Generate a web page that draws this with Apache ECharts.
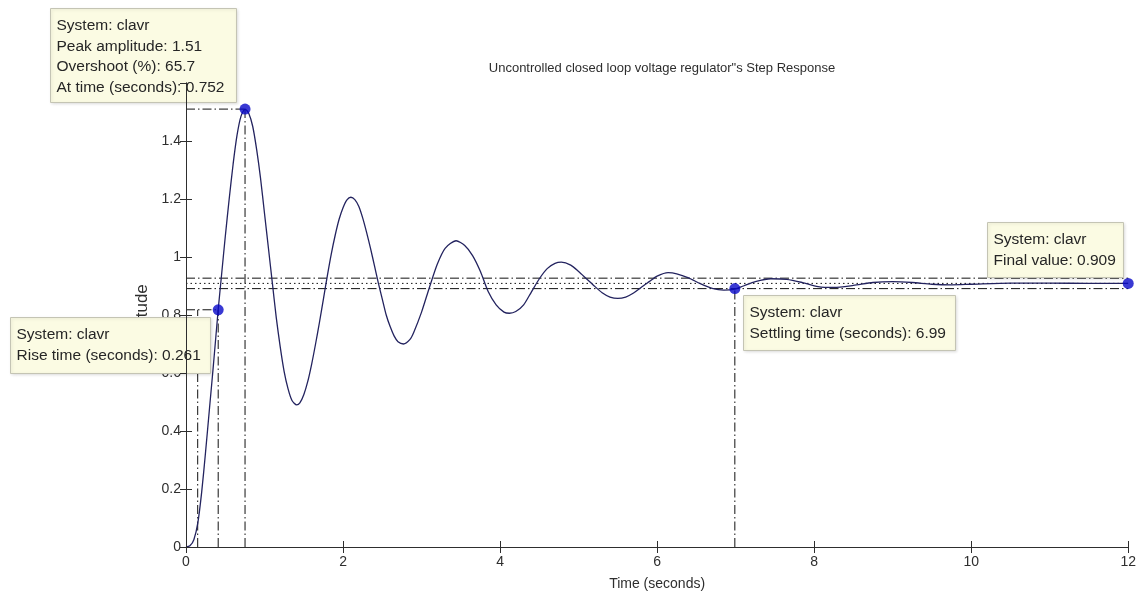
<!DOCTYPE html>
<html>
<head>
<meta charset="utf-8">
<title>Step Response</title>
<script src="https://cdn.jsdelivr.net/npm/echarts@6/dist/echarts.min.js"></script>
<style>
  html, body { margin: 0; padding: 0; background: #ffffff; }
  #chart { width: 1139px; height: 598px; }
</style>
</head>
<body>
<div id="chart"></div>
<script>
// Step response of the closed loop voltage regulator (time in seconds, amplitude)
const timeS = [
  0.00, 0.05, 0.10, 0.15, 0.20, 0.25, 0.30, 0.35, 0.41, 0.45,
  0.50, 0.55, 0.60, 0.65, 0.70, 0.752, 0.80, 0.85, 0.90, 0.95,
  1.00, 1.05, 1.10, 1.15, 1.20, 1.25, 1.30, 1.35, 1.41, 1.45,
  1.50, 1.55, 1.60, 1.65, 1.70, 1.75, 1.80, 1.85, 1.90, 1.95,
  2.00, 2.05, 2.10, 2.15, 2.20, 2.25, 2.30, 2.35, 2.40, 2.45,
  2.50, 2.55, 2.60, 2.65, 2.70, 2.77, 2.85, 2.90, 3.00, 3.10,
  3.20, 3.30, 3.44, 3.55, 3.65, 3.75, 3.85, 3.95, 4.05, 4.12,
  4.20, 4.30, 4.40, 4.50, 4.60, 4.70, 4.78, 4.90, 5.00, 5.10,
  5.20, 5.30, 5.40, 5.50, 5.60, 5.70, 5.80, 5.90, 6.00, 6.14,
  6.25, 6.40, 6.55, 6.70, 6.85, 6.99, 7.10, 7.25, 7.45, 7.65,
  7.85, 8.05, 8.25, 8.50, 8.75, 9.00, 9.25, 9.50, 9.75, 10.00,
  10.50, 11.00, 11.50, 12.00
];
const amplitude = [
  0.000, 0.004, 0.025, 0.082, 0.190, 0.330, 0.480, 0.630, 0.818, 0.930,
  1.070, 1.200, 1.320, 1.420, 1.485, 1.510, 1.495, 1.450, 1.370, 1.270,
  1.150, 1.030, 0.910, 0.790, 0.690, 0.605, 0.545, 0.505, 0.490, 0.497,
  0.525, 0.570, 0.630, 0.700, 0.775, 0.855, 0.935, 1.010, 1.075, 1.130,
  1.170, 1.197, 1.206, 1.198, 1.175, 1.135, 1.085, 1.030, 0.970, 0.910,
  0.855, 0.800, 0.760, 0.728, 0.708, 0.700, 0.715, 0.740, 0.810, 0.895,
  0.975, 1.030, 1.056, 1.040, 1.005, 0.950, 0.880, 0.835, 0.810, 0.806,
  0.812, 0.835, 0.880, 0.925, 0.960, 0.978, 0.982, 0.972, 0.950, 0.925,
  0.900, 0.877, 0.862, 0.857, 0.862, 0.876, 0.896, 0.915, 0.934, 0.946,
  0.942, 0.928, 0.908, 0.892, 0.886, 0.889, 0.900, 0.915, 0.925, 0.923,
  0.912, 0.898, 0.895, 0.902, 0.912, 0.915, 0.912, 0.906, 0.904, 0.906,
  0.910, 0.910, 0.909, 0.909
];

// Axis ticks
const xTicks = [0, 2, 4, 6, 8, 10, 12];
const yTicks = [0, 0.2, 0.4, 0.6, 0.8, 1, 1.2, 1.4, 1.6];

// Response characteristics
const systemName = 'clavr';
const peakTime = 0.752, peakAmp = 1.51, overshootPct = 65.7;
const riseStart = 0.149, riseEnd = 0.41, riseLevel = 0.818, riseTime = 0.261;
const settleTime = 6.99, settleLow = 0.891, settleHigh = 0.927;
const finalValue = 0.909;

const FONT = '"Liberation Sans", Arial, Helvetica, sans-serif';
const INK = '#2e2e2e';
const DASHDOT = [9, 3, 1.5, 3];
const DOTTED = [1.5, 3];

const xMin = xTicks[0], xMax = xTicks[xTicks.length - 1];
const yMin = yTicks[0], yMax = yTicks[yTicks.length - 1];
const xStep = xTicks[1] - xTicks[0], yStep = yTicks[1] - yTicks[0];

function guide(points, dash) {
  return {
    type: 'line', data: points, symbol: 'none', silent: true,
    xAxisIndex: 0, yAxisIndex: 0, z: 3,
    lineStyle: { color: '#111111', width: 1, type: dash }
  };
}

const responseData = timeS.map((t, i) => [t, amplitude[i]]);

const chart = echarts.init(document.getElementById('chart'), null, { renderer: 'canvas' });

// Data-tip style annotation box
function box(x, y, w, h, lines) {
  return {
    type: 'group', left: x, top: y, z: 20,
    children: [
      { type: 'rect', shape: { x: 0, y: 0, width: w, height: h }, z: 20,
        style: { fill: '#fbfbe3', stroke: '#c4c4b4', lineWidth: 1,
                 shadowBlur: 3, shadowColor: 'rgba(0,0,0,0.12)', shadowOffsetX: 1, shadowOffsetY: 1 } },
      { type: 'text', x: 6, y: 7, z: 21,
        style: { text: lines.join('\n'), font: '15.5px ' + FONT, fill: '#262626', lineHeight: 20.5 } }
    ]
  };
}

const commonX = {
  type: 'value', min: xMin, max: xMax, interval: xStep,
  splitLine: { show: false },
  axisLine: { show: true, lineStyle: { color: INK, width: 1 } },
  axisTick: { show: true, inside: true, length: 6, lineStyle: { color: INK } }
};
const commonY = {
  type: 'value', min: yMin, max: yMax, interval: yStep,
  splitLine: { show: false },
  axisLine: { show: true, lineStyle: { color: INK, width: 1 } },
  axisTick: { show: true, inside: true, length: 6, lineStyle: { color: INK } }
};

chart.setOption({
  animation: false,
  backgroundColor: '#ffffff',
  title: {
    text: 'Uncontrolled closed loop voltage regulator"s Step Response',
    left: 657, top: 57, textAlign: 'center',
    textStyle: { fontFamily: FONT, fontSize: 13, fontWeight: 'normal', color: INK }
  },
  grid: { left: 186, right: 10, top: 83, bottom: 51, containLabel: false },
  xAxis: [
    Object.assign({}, commonX, {
      position: 'bottom',
      name: 'Time (seconds)', nameLocation: 'middle', nameGap: 30,
      nameTextStyle: { fontFamily: FONT, fontSize: 14, color: INK },
      axisLabel: { margin: 8, fontFamily: FONT, fontSize: 14, color: INK }
    }),
    Object.assign({}, commonX, { position: 'top', z: 30, axisLabel: { show: false } })
  ],
  yAxis: [
    Object.assign({}, commonY, {
      position: 'left',
      axisLine: { show: false },
      name: 'Amplitude', nameLocation: 'middle', nameGap: 14, nameRotate: 90,
      nameTextStyle: { fontFamily: FONT, fontSize: 17, color: INK, padding: [0, 14, 0, 0] },
      axisLabel: { margin: 5, fontFamily: FONT, fontSize: 14, color: INK }
    }),
    Object.assign({}, commonY, { position: 'right', z: 30, axisLabel: { show: false } }),
    Object.assign({}, commonY, { position: 'left', z: 30, axisTick: { show: false }, axisLabel: { show: false } })
  ],
  series: [
    // settling band and final value
    guide([[xMin, settleHigh], [xMax, settleHigh]], DASHDOT),
    guide([[xMin, finalValue], [xMax, finalValue]], DOTTED),
    guide([[xMin, settleLow], [xMax, settleLow]], DASHDOT),
    // peak
    guide([[xMin, peakAmp], [peakTime, peakAmp]], DASHDOT),
    guide([[peakTime, yMin], [peakTime, peakAmp]], DASHDOT),
    // rise
    guide([[xMin, riseLevel], [riseEnd, riseLevel]], DASHDOT),
    guide([[riseStart, yMin], [riseStart, riseLevel]], DASHDOT),
    guide([[riseEnd, yMin], [riseEnd, riseLevel]], DASHDOT),
    // settling time
    guide([[settleTime, yMin], [settleTime, settleLow]], DASHDOT),
    {
      name: systemName, type: 'line', data: responseData, symbol: 'none',
      smooth: 0.25, z: 4, silent: true,
      lineStyle: { color: '#23235f', width: 1.3 }
    },
    {
      type: 'scatter', z: 6, silent: true, symbol: 'circle', symbolSize: 11,
      itemStyle: { color: '#0808c8' },
      data: [[peakTime, peakAmp], [riseEnd, riseLevel], [settleTime, settleLow], [xMax, finalValue]]
    }
  ],
  graphic: [
    box(50, 8, 186, 94, [
      'System: ' + systemName,
      'Peak amplitude: ' + peakAmp,
      'Overshoot (%): ' + overshootPct,
      'At time (seconds): ' + peakTime
    ]),
    box(10, 317, 200, 56, [
      'System: ' + systemName,
      'Rise time (seconds): ' + riseTime
    ]),
    box(743, 295, 212, 55, [
      'System: ' + systemName,
      'Settling time (seconds): ' + settleTime
    ]),
    box(987, 222, 136, 55, [
      'System: ' + systemName,
      'Final value: ' + finalValue
    ])
  ]
});
</script>
</body>
</html>
